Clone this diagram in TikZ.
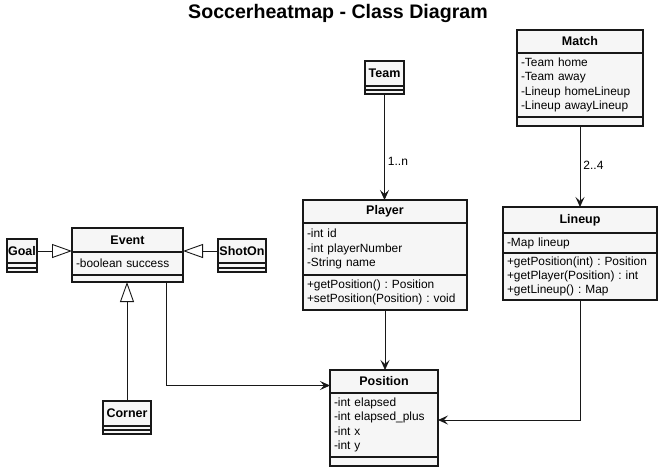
\documentclass[tikz,border=0pt]{standalone}
\usepackage{fontspec}
\setmainfont{Liberation Sans}
\usetikzlibrary{arrows.meta, positioning}
\definecolor{boxc}{HTML}{F6F6F6}
\definecolor{linec}{HTML}{181818}
\frenchspacing
\tikzset{
  hdr/.style={draw=linec, fill=boxc, line width=1.1pt, outer sep=0pt, font=\bfseries\fontsize{12.5}{15}\selectfont, minimum height=24pt, inner sep=0pt, anchor=north west},
  mem/.style={draw=linec, fill=boxc, line width=1.1pt, outer sep=0pt, font=\fontsize{11.9}{14.3}\selectfont, inner xsep=4pt, inner ysep=0pt, align=left, anchor=north},
  emp/.style={draw=linec, fill=boxc, line width=1.1pt, outer sep=0pt, inner sep=0pt, anchor=north},
  assoc/.style={-{Stealth[length=10pt, width=9pt, inset=4pt]}, draw=linec, line width=0.9pt},
  gen/.style={-{Triangle[open, length=20pt, width=14pt]}, draw=linec, line width=0.9pt},
  mult/.style={font=\fontsize{12}{14}\selectfont, inner sep=3pt},
}

\begin{document}
\begin{tikzpicture}[x=1pt, y=-1pt]
    \useasboundingbox (0,0) rectangle (668,475);
    \node[font=\bfseries\fontsize{19.6}{22}\selectfont] (title) at (338,13) {Soccerheatmap - Class Diagram};

    % Match
    \node[hdr, minimum width=126pt, minimum height=23pt] (match) at (517,30) {Match};
    \node[mem, text width=118pt, minimum height=64pt, below=0pt of match] (match-a) {-Team home\\-Team away\\-Lineup homeLineup\\-Lineup awayLineup};
    \node[emp, minimum width=126pt, minimum height=9pt, below=0pt of match-a] (match-m) {};

    % Lineup
    \node[hdr, minimum width=154pt, minimum height=26pt] (lineup) at (503,207) {Lineup};
    \node[mem, text width=146pt, minimum height=20pt, below=0pt of lineup] (lineup-a) {-Map lineup};
    \node[mem, text width=146pt, minimum height=47pt, below=0pt of lineup-a] (lineup-m) {+getPosition(int) : Position\\+getPlayer(Position) : int\\+getLineup() : Map};

    % Team
    \node[hdr, minimum width=39pt, minimum height=25pt] (team) at (365,61) {Team};
    \node[emp, minimum width=39pt, minimum height=4pt, below=0pt of team] (team-a) {};
    \node[emp, minimum width=39pt, minimum height=4pt, below=0pt of team-a] (team-b) {};

    % Player
    \node[hdr, minimum width=164pt, minimum height=23pt] (player) at (303,200) {Player};
    \node[mem, text width=156pt, minimum height=52pt, below=0pt of player] (player-a) {-int id\\-int playerNumber\\-String name};
    \node[mem, text width=156pt, minimum height=35pt, below=0pt of player-a] (player-m) {+getPosition() : Position\\+setPosition(Position) : void};

    % Position
    \node[hdr, minimum width=108pt, minimum height=23pt] (position) at (330,370) {Position};
    \node[mem, text width=100pt, minimum height=64pt, below=0pt of position] (position-a) {-int elapsed\\-int elapsed\_plus\\-int x\\-int y};
    \node[emp, minimum width=108pt, minimum height=9pt, below=0pt of position-a] (position-m) {};

    % Event and subclasses
    \node[hdr, minimum width=111pt, minimum height=24pt] (event) at (72,228) {Event};
    \node[mem, text width=103pt, minimum height=23pt, below=0pt of event] (event-a) {-boolean success};
    \node[emp, minimum width=111pt, minimum height=7pt, below=0pt of event-a] (event-b) {};

    \node[hdr, minimum width=30pt, minimum height=24pt] (goal) at (7,239) {Goal};
    \node[emp, minimum width=30pt, minimum height=5pt, below=0pt of goal] (goal-a) {};
    \node[emp, minimum width=30pt, minimum height=4pt, below=0pt of goal-a] (goal-b) {};

    \node[hdr, minimum width=48pt, minimum height=24pt] (shot) at (218,239) {ShotOn};
    \node[emp, minimum width=48pt, minimum height=5pt, below=0pt of shot] (shot-a) {};
    \node[emp, minimum width=48pt, minimum height=4pt, below=0pt of shot-a] (shot-b) {};

    \node[hdr, minimum width=48pt, minimum height=25pt] (corner) at (103,401) {Corner};
    \node[emp, minimum width=48pt, minimum height=4pt, below=0pt of corner] (corner-a) {};
    \node[emp, minimum width=48pt, minimum height=4pt, below=0pt of corner-a] (corner-b) {};

    % associations
    \draw[assoc] (team-b.south) -- node[right, mult, pos=0.64] {1..n} (team-b.south |- player.north);
    \draw[assoc] (match-m.south) -- node[right, mult, pos=0.48] {2..4} (match-m.south |- lineup.north);
    \draw[assoc] (player-m.south) -- (player-m.south |- position.north);
    \draw[assoc] (lineup-m.south) |- ([yshift=5pt]position-a.east);
    \draw[assoc] ([xshift=38.5pt]event-b.south) |- ([yshift=-4pt]position.west);

    % generalizations
    \draw[gen] (goal.east) -- (goal.east -| event.west);
    \draw[gen] (shot.west) -- (shot.west -| event.east);
    \draw[gen] (corner.north) -- (corner.north |- event-b.south);
  \end{tikzpicture}
\end{document}
